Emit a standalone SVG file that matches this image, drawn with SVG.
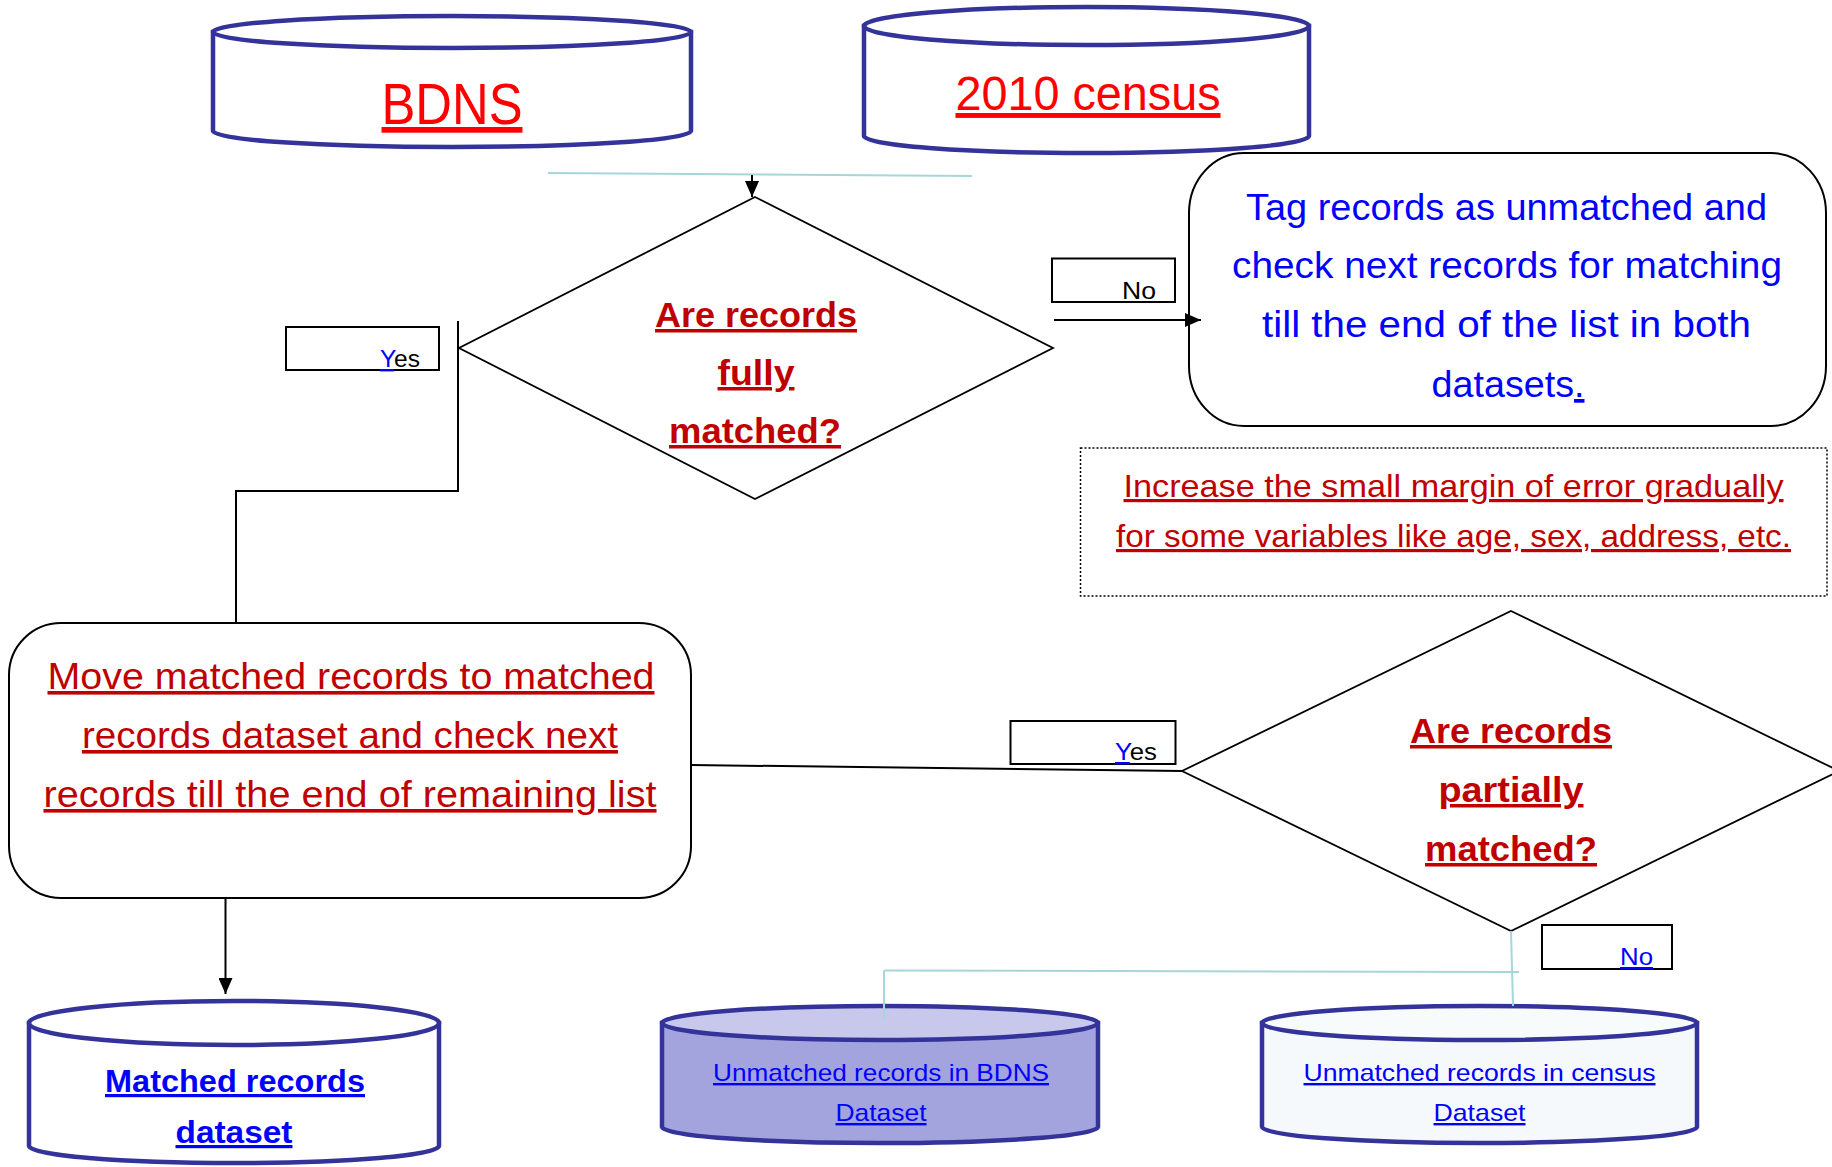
<svg xmlns="http://www.w3.org/2000/svg" width="1832" height="1167" viewBox="0 0 1832 1167">
<style>
text{font-family:"Liberation Sans",Arial,sans-serif;}
.cyl{stroke:#333399;stroke-width:4.5;}
.box{fill:#fff;stroke:#000;stroke-width:2;}
.lbl{fill:#fff;stroke:#000;stroke-width:2;}
.dia{fill:#fff;stroke:#000;stroke-width:1.8;}
.red{fill:#FF0000;text-decoration:underline;}
.dred{fill:#C00000;text-decoration:underline;}
.blue{fill:#0000FF;}
.u{text-decoration:underline;}
.b{font-weight:bold;}
.conn{fill:none;stroke:#000;stroke-width:2;}
.teal{fill:none;stroke:#A6D6DA;stroke-width:2;}
</style>
<defs>
<marker id="ah" viewBox="0 0 16 14" refX="16" refY="7" markerWidth="16" markerHeight="14" markerUnits="userSpaceOnUse" orient="auto">
<path d="M0,0 L16,7 L0,14 Z" fill="#000"/>
</marker>
</defs>
<rect width="1832" height="1167" fill="#fff"/>

<g id="bdns">
<path class="cyl" fill="#fff" d="M213,32 L213,131 A239,16 0 0 0 691,131 L691,32 Z"/>
<ellipse class="cyl" fill="#fff" cx="452" cy="32" rx="239" ry="16"/>
<text class="red" x="452" y="124" font-size="57" text-anchor="middle" textLength="141" lengthAdjust="spacingAndGlyphs">BDNS</text>
</g>

<g id="census2010">
<path class="cyl" fill="#fff" d="M864,26 L864,136 A222.5,17 0 0 0 1309,136 L1309,26 Z"/>
<ellipse class="cyl" fill="#fff" cx="1086.5" cy="26" rx="222.5" ry="19"/>
<text class="red" x="1088" y="110" font-size="49" text-anchor="middle" textLength="265" lengthAdjust="spacingAndGlyphs">2010 census</text>
</g>

<g id="decision1">
<polygon class="dia" points="755,197 1053,348 755,499 459,348"/>
<text class="dred b" x="756" y="327" font-size="35" text-anchor="middle" textLength="202" lengthAdjust="spacingAndGlyphs">Are records</text>
<text class="dred b" x="756" y="385" font-size="35" text-anchor="middle" textLength="77" lengthAdjust="spacingAndGlyphs">fully</text>
<text class="dred b" x="755" y="443" font-size="35" text-anchor="middle" textLength="172" lengthAdjust="spacingAndGlyphs">matched?</text>
</g>

<g id="tag-unmatched">
<rect class="box" x="1189" y="153" width="637" height="273" rx="55" ry="60"/>
<text class="blue" x="1506.5" y="220" font-size="37" text-anchor="middle" textLength="521" lengthAdjust="spacingAndGlyphs">Tag records as unmatched and</text>
<text class="blue" x="1507" y="278" font-size="37" text-anchor="middle" textLength="550" lengthAdjust="spacingAndGlyphs">check next records for matching</text>
<text class="blue" x="1506.5" y="337" font-size="37" text-anchor="middle" textLength="489" lengthAdjust="spacingAndGlyphs">till the end of the list in both</text>
<text class="blue" x="1508" y="397" font-size="37" text-anchor="middle" textLength="153" lengthAdjust="spacingAndGlyphs">datasets<tspan class="u">.</tspan></text>
</g>

<g id="note-margin">
<rect x="1080.5" y="448" width="746.5" height="148" fill="#fff" stroke="#000" stroke-width="1.5" stroke-dasharray="2 2"/>
<text class="dred" x="1453.5" y="497" font-size="32" text-anchor="middle" textLength="660" lengthAdjust="spacingAndGlyphs">Increase the small margin of error gradually</text>
<text class="dred" x="1453.5" y="547" font-size="32" text-anchor="middle" textLength="675" lengthAdjust="spacingAndGlyphs">for some variables like age, sex, address, etc.</text>
</g>

<g id="move-matched">
<rect class="box" x="9" y="623" width="682" height="275" rx="52" ry="52"/>
<text class="dred" x="351" y="689" font-size="36" text-anchor="middle" textLength="607" lengthAdjust="spacingAndGlyphs">Move matched records to matched</text>
<text class="dred" x="350" y="748" font-size="36" text-anchor="middle" textLength="536" lengthAdjust="spacingAndGlyphs">records dataset and check next</text>
<text class="dred" x="350" y="807" font-size="36" text-anchor="middle" textLength="613" lengthAdjust="spacingAndGlyphs">records till the end of remaining list</text>
</g>

<g id="decision2">
<polygon class="dia" points="1511,611 1839,771 1511,931 1182,771"/>
<text class="dred b" x="1511" y="743" font-size="35" text-anchor="middle" textLength="202" lengthAdjust="spacingAndGlyphs">Are records</text>
<text class="dred b" x="1511" y="802" font-size="35" text-anchor="middle" textLength="145" lengthAdjust="spacingAndGlyphs">partially</text>
<text class="dred b" x="1511" y="861" font-size="35" text-anchor="middle" textLength="172" lengthAdjust="spacingAndGlyphs">matched?</text>
</g>

<g id="matched-dataset">
<path class="cyl" fill="#fff" d="M29,1023 L29,1146 A205,17 0 0 0 439,1146 L439,1023 Z"/>
<ellipse class="cyl" fill="#fff" cx="234" cy="1023" rx="205" ry="22"/>
<text class="blue b u" x="235" y="1092" font-size="32" text-anchor="middle" textLength="260" lengthAdjust="spacingAndGlyphs">Matched records</text>
<text class="blue b u" x="234" y="1143" font-size="32" text-anchor="middle" textLength="117" lengthAdjust="spacingAndGlyphs">dataset</text>
</g>

<g id="unmatched-bdns">
<path class="cyl" fill="#A3A3DD" d="M662,1023 L662,1127 A218,16 0 0 0 1098,1127 L1098,1023 Z"/>
<ellipse class="cyl" fill="#C8C8EC" cx="880" cy="1023" rx="218" ry="17"/>
<text class="blue u" x="881" y="1081" font-size="24" text-anchor="middle" textLength="336" lengthAdjust="spacingAndGlyphs">Unmatched records in BDNS</text>
<text class="blue u" x="881" y="1121" font-size="24" text-anchor="middle" textLength="91" lengthAdjust="spacingAndGlyphs">Dataset</text>
</g>

<g id="unmatched-census">
<path class="cyl" fill="#F5F9FB" d="M1262,1023 L1262,1127 A217.5,16 0 0 0 1697,1127 L1697,1023 Z"/>
<ellipse class="cyl" fill="#F8FBFC" cx="1479.5" cy="1023" rx="217.5" ry="17"/>
<text class="blue u" x="1479.5" y="1081" font-size="24" text-anchor="middle" textLength="352" lengthAdjust="spacingAndGlyphs">Unmatched records in census</text>
<text class="blue u" x="1479.5" y="1121" font-size="24" text-anchor="middle" textLength="92" lengthAdjust="spacingAndGlyphs">Dataset</text>
</g>

<g id="connectors">
<line class="teal" x1="548" y1="173" x2="972" y2="176"/>
<line class="conn" x1="752" y1="175" x2="752" y2="197" stroke-width="1.5" marker-end="url(#ah)"/>
<line class="conn" x1="1054" y1="320" x2="1201" y2="320" marker-end="url(#ah)"/>
<polyline class="conn" points="458,321 458,491 236,491 236,623"/>
<line class="conn" x1="691" y1="765" x2="1182" y2="771"/>
<line class="conn" x1="225.5" y1="898" x2="225.5" y2="994" stroke-width="1.5" marker-end="url(#ah)"/>
<line class="teal" x1="1511" y1="931" x2="1513" y2="1006" stroke-width="1.5"/>
<line class="teal" x1="884" y1="970.5" x2="1519" y2="972"/>
<line class="teal" x1="884" y1="970.5" x2="884" y2="1020" stroke-width="1.5"/>
</g>

<g id="label-yes1">
<rect class="lbl" x="286" y="327" width="153" height="43"/>
<text x="380" y="367" font-size="24" textLength="40" lengthAdjust="spacingAndGlyphs"><tspan class="blue u">Y</tspan>es</text>
</g>
<g id="label-no1">
<rect class="lbl" x="1052" y="258.5" width="123" height="43.5"/>
<text x="1122" y="299" font-size="24" textLength="34" lengthAdjust="spacingAndGlyphs">No</text>
</g>
<g id="label-yes2">
<rect class="lbl" x="1010.5" y="721" width="165" height="43"/>
<text x="1115" y="760" font-size="24" textLength="42" lengthAdjust="spacingAndGlyphs"><tspan class="blue u">Y</tspan>es</text>
</g>
<g id="label-no2">
<rect class="lbl" x="1542" y="925" width="130" height="44"/>
<text class="blue u" x="1620" y="965" font-size="24" textLength="33" lengthAdjust="spacingAndGlyphs">No</text>
</g>
</svg>
